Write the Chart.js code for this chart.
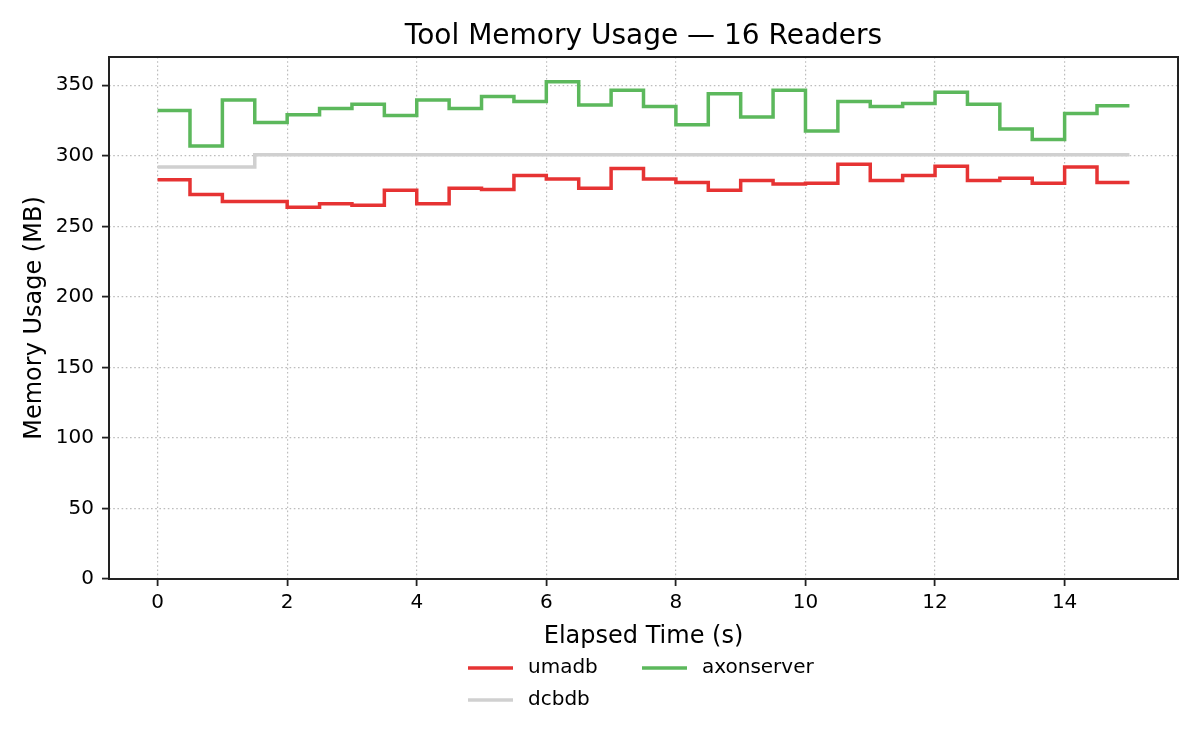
<!DOCTYPE html>
<html>
<head>
<meta charset="UTF-8">
<title>Tool Memory Usage</title>
<style>
  html, body { margin: 0; padding: 0; background: #fff; }
  #wrap { width: 1200px; height: 750px; }
</style>
</head>
<body>
<div id="wrap"><canvas id="memChart" width="1200" height="750"></canvas></div>
<script src="https://cdn.jsdelivr.net/npm/chart.js"></script>
<script>
// elapsed time (s), one sample every 0.5 s
const times = [0, 0.5, 1, 1.5, 2, 2.5, 3, 3.5, 4, 4.5, 5, 5.5, 6, 6.5, 7, 7.5,
               8, 8.5, 9, 9.5, 10, 10.5, 11, 11.5, 12, 12.5, 13, 13.5, 14, 14.5, 15];

// memory usage (MB)
const umadbMem = [283, 272.5, 267.5, 267.5, 263.5, 266, 265, 275.5, 266, 277, 276, 286, 283.5, 277, 291, 283.5,
                  281, 275.5, 282.5, 280, 280.5, 294, 282.5, 286, 292.5, 282.5, 284, 280.5, 292, 281, 281];
const dcbdbMem = [292, 292, 292, 300.8, 300.8, 300.8, 300.8, 300.8, 300.8, 300.8, 300.8, 300.8, 300.8, 300.8, 300.8, 300.8,
                  300.8, 300.8, 300.8, 300.8, 300.8, 300.8, 300.8, 300.8, 300.8, 300.8, 300.8, 300.8, 300.8, 300.8, 300.8];
const axonMem = [332, 307, 339.5, 323.5, 329, 333.5, 336.5, 328.5, 339.5, 333.5, 342, 338.5, 352.5, 336, 346.5, 335,
                 322, 344, 327.5, 346.5, 317.5, 338.5, 335, 337, 345, 336.5, 319, 311.5, 330, 335.5, 335.5];

const xTicks = [0, 2, 4, 6, 8, 10, 12, 14];
const yTicks = [0, 50, 100, 150, 200, 250, 300, 350];

const FONT = '"DejaVu Sans", "Liberation Sans", sans-serif';

function pts(vals) {
  return times.map((t, i) => ({ x: t, y: vals[i] }));
}

// title, axis labels, frame and legend drawn on top
const decorations = {
  id: 'decorations',
  afterDraw(chart) {
    const { ctx, chartArea: a } = chart;
    const cx = (a.left + a.right) / 2;
    ctx.save();
    ctx.setLineDash([]);
    ctx.strokeStyle = '#222';
    ctx.lineWidth = 2;
    ctx.strokeRect(a.left, a.top, a.right - a.left, a.bottom - a.top);

    ctx.fillStyle = '#000';
    ctx.textAlign = 'center';
    ctx.textBaseline = 'alphabetic';
    ctx.font = '28px ' + FONT;
    ctx.fillText('Tool Memory Usage — 16 Readers', cx, a.top - 13);

    ctx.font = '24px ' + FONT;
    ctx.fillText('Elapsed Time (s)', cx, a.bottom + 64);

    ctx.save();
    ctx.translate(41, (a.top + a.bottom) / 2);
    ctx.rotate(-Math.PI / 2);
    ctx.fillText('Memory Usage (MB)', 0, 0);
    ctx.restore();

    // legend, 2 columns (umadb, dcbdb | axonserver)
    const ds = chart.data.datasets;
    const slots = [
      { d: ds[0], x: 468, y: a.bottom + 89 },
      { d: ds[1], x: 468, y: a.bottom + 121 },
      { d: ds[2], x: 642, y: a.bottom + 89 }
    ];
    ctx.font = '20px ' + FONT;
    ctx.textAlign = 'left';
    ctx.textBaseline = 'middle';
    slots.forEach(s => {
      ctx.strokeStyle = s.d.borderColor;
      ctx.lineWidth = 3.5;
      ctx.beginPath();
      ctx.moveTo(s.x, s.y);
      ctx.lineTo(s.x + 45, s.y);
      ctx.stroke();
      ctx.fillText(s.d.label, s.x + 60, s.y);
    });
    ctx.restore();
  }
};

const lineStyle = {
  stepped: 'before',
  pointRadius: 0,
  borderWidth: 3.5,
  borderJoinStyle: 'miter',
  fill: false,
  tension: 0
};

new Chart(document.getElementById('memChart'), {
  type: 'line',
  data: {
    datasets: [
      Object.assign({ label: 'umadb', data: pts(umadbMem), borderColor: '#e63333' }, lineStyle),
      Object.assign({ label: 'dcbdb', data: pts(dcbdbMem), borderColor: '#d0d0d0' }, lineStyle),
      Object.assign({ label: 'axonserver', data: pts(axonMem), borderColor: '#5cb85c' }, lineStyle)
    ]
  },
  options: {
    responsive: false,
    animation: false,
    devicePixelRatio: 1,
    layout: { padding: { left: 0, top: 57, right: 22, bottom: 0 } },
    plugins: { legend: { display: false }, title: { display: false }, tooltip: { enabled: false } },
    scales: {
      x: {
        type: 'linear',
        min: -0.75,
        max: 15.75,
        afterBuildTicks: s => { s.ticks = xTicks.map(v => ({ value: v })); },
        afterFit: s => { s.height = 171; },
        ticks: { font: { family: FONT, size: 20 }, color: '#000', padding: 5, maxRotation: 0 },
        grid: { color: '#bdbdbd', lineWidth: 1.2, tickColor: '#222', tickWidth: 1.8, tickLength: 7, tickBorderDash: [] },
        border: { display: false, dash: [1.6, 2.6] }
      },
      y: {
        min: 0,
        max: 370,
        afterBuildTicks: s => { s.ticks = yTicks.map(v => ({ value: v })); },
        afterFit: s => { s.width = 109; },
        ticks: { font: { family: FONT, size: 20 }, color: '#000', padding: 8 },
        grid: { color: '#bdbdbd', lineWidth: 1.2, tickColor: '#222', tickWidth: 1.8, tickLength: 7, tickBorderDash: [] },
        border: { display: false, dash: [1.6, 2.6] }
      }
    }
  },
  plugins: [decorations]
});
</script>
</body>
</html>
